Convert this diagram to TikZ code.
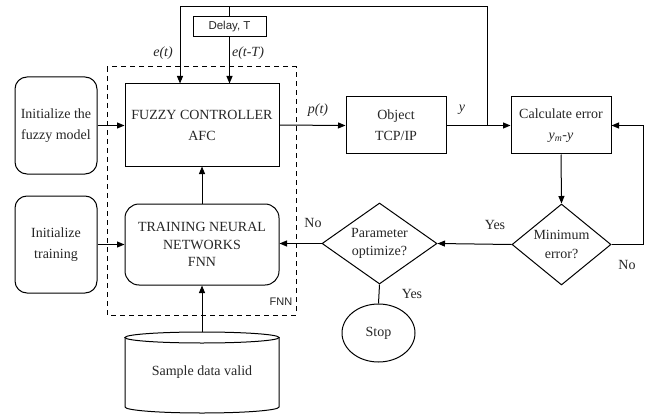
\documentclass[tikz,border=0pt]{standalone}
\usepackage{fontspec}
\setmainfont{Liberation Serif}
\newfontfamily\labelsans{Liberation Sans}
\usetikzlibrary{shapes.geometric,arrows.meta,calc}

\begin{document}
\begin{tikzpicture}[x=1pt,y=-1pt,
  every node/.style={font=\fontsize{14}{21}\selectfont, text=black!85},
  box/.style={draw, line width=1pt, inner sep=0pt, align=center},
  rbox/.style={box, rounded corners=12pt},
  arr/.style={line width=1pt, -{Triangle[length=7.5pt,width=6pt]}},
  plain/.style={line width=1pt},
  lab/.style={inner sep=0pt},
  itlab/.style={inner sep=0pt, font=\itshape\fontsize{14}{16}\selectfont},
  sanslab/.style={inner sep=0pt, font=\labelsans\fontsize{11}{13}\selectfont},
]
\useasboundingbox (0,0) rectangle (652,414);

% FNN block frame
\draw[line width=1pt, dash pattern=on 5pt off 4pt] (107,67) rectangle (296,315);
\node[sanslab] (fnnlab) at (281,302) {FNN};

% boxes
\node[rbox, minimum width=82pt, minimum height=97pt] (initf) at (56,125.5) {Initialize the\\fuzzy model};
\node[rbox, minimum width=82pt, minimum height=97pt] (initt) at (56,244.5) {Initialize\\training};
\node[box, minimum width=154pt, minimum height=82pt] (fuzzy) at (202,125) {FUZZY CONTROLLER\\AFC};
\node[box, rounded corners=14pt, minimum width=154pt, minimum height=81pt,
      font=\fontsize{14}{17.5}\selectfont] (train) at (202,244.5) {TRAINING NEURAL\\NETWORKS\\FNN};
\node[box, minimum width=100pt, minimum height=57pt] (obj) at (396,125.5) {Object\\TCP/IP};
\node[box, minimum width=100pt, minimum height=57pt] (calc) at (561,125.5) {Calculate error\\{\itshape y\textsubscript{m}-y}};
\node[box, minimum width=73pt, minimum height=20pt, font=\labelsans\fontsize{11.5}{13}\selectfont] (delay) at (229.5,27) {Delay, T};

% decisions and terminator
\node[diamond, draw, line width=1pt, inner sep=0pt, minimum width=99pt, minimum height=81pt,
      label={[align=center, font=\fontsize{14}{19.5}\selectfont]center:Minimum\\error?}] (minerr) at (561.5,244.5) {};
\node[diamond, draw, line width=1pt, inner sep=0pt, minimum width=115pt, minimum height=81pt,
      label={[align=center, font=\fontsize{14}{18.5}\selectfont]center:Parameter\\optimize?}] (param) at (379.5,243.5) {};
\node[ellipse, draw, line width=1pt, inner sep=0pt, minimum width=73pt, minimum height=58pt] (stop) at (378.5,333) {Stop};

% database cylinder
\draw[plain] (125,337.5) -- (125,407) arc[start angle=180, end angle=360, x radius=77pt, y radius=6pt] -- (279,337.5);
\draw[plain] (202,337.5) ellipse [x radius=77pt, y radius=5.5pt];
\node (data) at (202,372) {Sample data valid};
\coordinate (datatop) at (202,332);

% helper points
\coordinate (j) at (487,125.5);
\coordinate (topr) at (487,7);
\coordinate (topl) at (180,7);
\coordinate (dtop) at (229.5,7);
\coordinate (rr) at (643,0);

% connectors
\draw[arr] (initf.east) -- (initf.east -| fuzzy.west);
\draw[arr] (initt.east) -- (initt.east -| train.west);
\draw[arr] (train.north) -- (fuzzy.south);
\draw[arr] (datatop) -- (train.south);
\draw[arr] (fuzzy.east) -- (obj.west);
\draw[arr] (obj.east) -- (calc.west);
\draw[arr] (j) -- (topr) -- (topl) -- (topl |- fuzzy.north);
\draw[plain] (dtop) -- (delay.north);
\draw[arr] (delay.south) -- (delay.south |- fuzzy.north);
\draw[arr] (calc.south) -- (minerr.north);
\draw[arr] (minerr.east) -- (minerr.east -| rr) -- (rr |- calc.east) -- (calc.east);
\draw[arr] (minerr.west) -- (param.east);
\draw[arr] (param.west) -- (param.west -| train.east);
\draw[plain] (param.south) -- (stop.north);

% labels
\node[itlab] (et) at (163,53) {e(t)};
\node[itlab] (etT) at (248,53) {e(t-T)};
\node[itlab] (pt) at (318,110) {p(t)};
\node[itlab] (ylab) at (462,110) {y};
\node[lab] (yes1) at (495,225) {Yes};
\node[lab] (no1) at (627,265) {No};
\node[lab] (no2) at (313,223) {No};
\node[lab] (yes2) at (412,294) {Yes};
\end{tikzpicture}
\end{document}
